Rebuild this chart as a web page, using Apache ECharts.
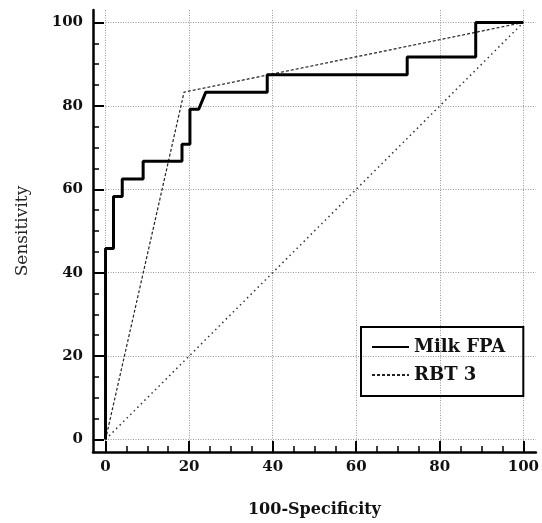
<!DOCTYPE html>
<html>
<head>
<meta charset="utf-8">
<script src="https://cdn.jsdelivr.net/npm/echarts@6/dist/echarts.min.js"></script>
<style>
html,body{margin:0;padding:0;background:#fff;}
#chart{width:542px;height:523px;}
</style>
</head>
<body>
<div id="chart"></div>
<script>
const majorTicks = [0, 20, 40, 60, 80, 100];
const minorTicks = [5, 10, 15, 25, 30, 35, 45, 50, 55, 65, 70, 75, 85, 90, 95];
const milkFPA = [
  [0, 0], [0, 45.8], [1.9, 45.8], [1.9, 58.3], [4, 58.3], [4, 62.5], [9, 62.5], [9, 66.7],
  [18.3, 66.7], [18.3, 70.8], [20.2, 70.8], [20.2, 79.2], [22.3, 79.2], [24, 83.3],
  [38.7, 83.3], [38.7, 87.5], [72.2, 87.5], [72.2, 91.7], [88.6, 91.7], [88.6, 100], [100, 100]
];
const rbt3 = [[0, 0], [18.8, 83.3], [100, 100]];
const diagonal = [[0, 0], [100, 100]];
const seriesNames = ['Milk FPA', 'RBT 3'];

const serif = 'DejaVu Serif';
const chart = echarts.init(document.getElementById('chart'));

function mainAxis(isX) {
  return {
    type: 'value', min: -3, max: 103, gridIndex: 0,
    position: isX ? 'bottom' : 'left',
    name: isX ? '100-Specificity' : 'Sensitivity',
    nameLocation: 'middle',
    nameGap: isX ? 50 : 62,
    nameTextStyle: isX
      ? {fontFamily: serif, fontWeight: 'bold', fontSize: 16, color: '#111'}
      : {fontFamily: serif, fontWeight: 'normal', fontSize: 17, color: '#222'},
    axisLine: {show: true, onZero: false, lineStyle: {color: '#000', width: 2.5}},
    axisTick: {show: true, inside: true, length: 11, lineStyle: {color: '#000', width: 2}, customValues: majorTicks},
    axisLabel: {show: true, customValues: majorTicks, margin: isX ? 8 : 10, fontFamily: serif, fontWeight: 'bold', fontSize: 15, color: '#111'},
    splitLine: {show: true, lineStyle: {color: '#999', width: 1, type: [1, 1.5]}},
    minorTick: {show: false}
  };
}
function minorAxis(isX) {
  return {
    type: 'value', min: -3, max: 103, gridIndex: 0,
    position: isX ? 'bottom' : 'left',
    axisLine: {show: false, onZero: false},
    axisTick: {show: true, inside: true, length: 6, lineStyle: {color: '#000', width: 1.5}, customValues: minorTicks},
    axisLabel: {show: false},
    splitLine: {show: false}
  };
}

chart.setOption({
  animation: false,
  backgroundColor: '#fff',
  grid: {left: 93, right: 2, top: 10, bottom: 68, containLabel: false},
  xAxis: [mainAxis(true), minorAxis(true)],
  yAxis: [mainAxis(false), minorAxis(false)],
  legend: {
    data: seriesNames,
    orient: 'vertical',
    left: 361, top: 327,
    padding: [10, 18, 11, 10],
    itemWidth: 37, itemHeight: 14, itemGap: 8,
    borderColor: '#000', borderWidth: 2,
    itemStyle: {opacity: 0},
    textStyle: {fontFamily: serif, fontWeight: 'bold', fontSize: 18, color: '#111', lineHeight: 20}
  },
  series: [
    {
      name: 'Milk FPA', type: 'line', data: milkFPA, xAxisIndex: 0, yAxisIndex: 0,
      symbol: 'none', lineStyle: {color: '#000', width: 3}, itemStyle: {color: '#000'}, z: 5
    },
    {
      name: 'RBT 3', type: 'line', data: rbt3, xAxisIndex: 0, yAxisIndex: 0,
      symbol: 'none', lineStyle: {color: '#222', width: 1.2, type: [3, 2]}, itemStyle: {color: '#222'}, z: 4
    },
    {
      name: 'Reference', type: 'line', data: diagonal, xAxisIndex: 0, yAxisIndex: 0,
      symbol: 'none', lineStyle: {color: '#333', width: 1.5, type: [1.5, 3.5]}, z: 3
    }
  ]
});
</script>
</body>
</html>
